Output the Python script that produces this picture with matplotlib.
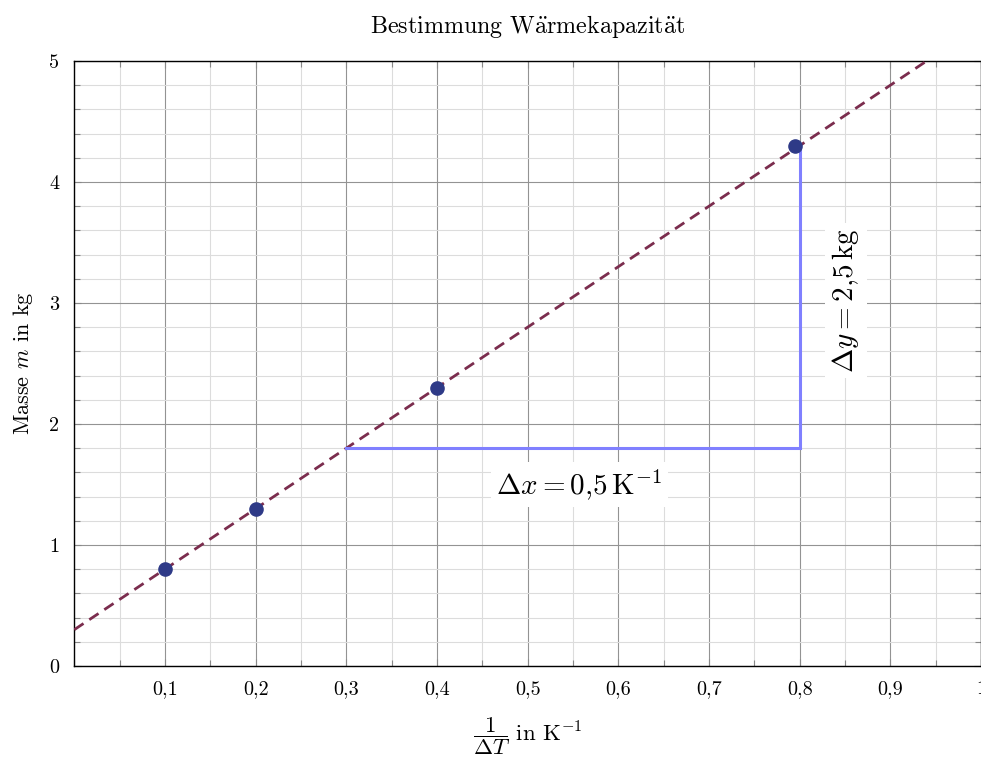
import matplotlib
matplotlib.use("Agg")
import matplotlib.pyplot as plt
import numpy as np
from matplotlib.ticker import MultipleLocator, FixedLocator

plt.rcParams['font.family'] = ['cmr10', 'DejaVu Serif']
plt.rcParams['mathtext.fontset'] = 'cm'
plt.rcParams['axes.unicode_minus'] = False

# Data
x_data = [0.1, 0.2, 0.4, 0.795]
y_data = [0.8, 1.3, 2.3, 4.3]
fit_slope = 5.0
fit_intercept = 0.3
tri_x = [0.3, 0.8, 0.8]
tri_y = [1.8, 1.8, 4.3]
x_ticks = [0.1, 0.2, 0.3, 0.4, 0.5, 0.6, 0.7, 0.8, 0.9, 1.0]
x_ticklabels = ["0,1", "0,2", "0,3", "0,4", "0,5", "0,6", "0,7", "0,8", "0,9", "1"]
y_ticks = [0, 1, 2, 3, 4, 5]
y_ticklabels = ["0", "1", "2", "3", "4", "5"]

fig = plt.figure(figsize=(9.81, 7.6), dpi=100)
ax = fig.add_axes([0.0757, 0.1237, 1.0 - 0.0757, 0.9197 - 0.1237])

ax.set_xlim(0, 1)
ax.set_ylim(0, 5)

ax.xaxis.set_major_locator(FixedLocator(x_ticks))
ax.set_xticklabels(x_ticklabels)
ax.yaxis.set_major_locator(FixedLocator(y_ticks))
ax.set_yticklabels(y_ticklabels)
ax.xaxis.set_minor_locator(MultipleLocator(0.05))
ax.yaxis.set_minor_locator(MultipleLocator(0.2))

ax.grid(which='major', color='#939393', linewidth=0.8)
ax.grid(which='minor', color='#dcdcdc', linewidth=0.8)
ax.set_axisbelow(True)

ax.tick_params(which='both', direction='in', top=True, right=True, labelsize=14.5, color='#888888')
ax.tick_params(axis='x', which='major', length=5, width=0.8, pad=10)
ax.tick_params(axis='y', which='major', length=5, width=0.8, pad=11)
ax.tick_params(which='minor', length=4, width=0.8)

for s in ax.spines.values():
    s.set_linewidth(1.0)
    s.set_color('black')

xs = np.array([0.0, 1.0])
ax.plot(xs, fit_slope * xs + fit_intercept, linestyle=(0, (4, 2.5)), color='#7b2d4e', linewidth=2, zorder=3)

ax.plot(tri_x, tri_y, color='#8080ff', linewidth=2.2, zorder=3, solid_joinstyle='miter')

ax.scatter(x_data, y_data, s=90, color='#2e3a87', zorder=4)

bbox = dict(facecolor='white', edgecolor='none', pad=4)
ax.text(0.557, 1.5, r"$\Delta x = 0{,}5\,\mathrm{K}^{-1}$", fontsize=21, ha='center', va='center', bbox=bbox, zorder=5)
ax.text(0.851, 3.02, r"$\Delta y = 2{,}5\,\mathrm{kg}$", fontsize=21, ha='center', va='center', rotation=90, bbox=bbox, zorder=5)

ax.set_title(r"Bestimmung W$\ddot{\mathrm{a}}$rmekapazit$\ddot{\mathrm{a}}$t", fontsize=17.3, pad=20)
ax.set_xlabel(r"$\dfrac{1}{\Delta T}$ in K$^{-1}$", fontsize=16.5, labelpad=13)
ax.set_ylabel(r"Masse $m$ in kg", fontsize=16, labelpad=10)

fig.savefig("out.png", dpi=100)
